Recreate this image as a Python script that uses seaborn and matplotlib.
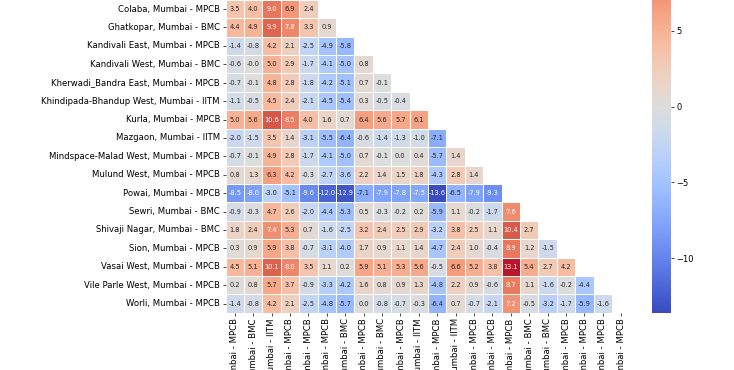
import numpy as np
import pandas as pd
import matplotlib
matplotlib.use("Agg")
import matplotlib.pyplot as plt
import seaborn as sns

# stations (row/column order of the matrix)
sites = ["Bandra Kurla Complex", "Byculla", "Chakala-Andheri East", "Chembur",
         "Chhatrapati Shivaji Intl. Airport (T2)", "Colaba", "Ghatkopar",
         "Kandivali East", "Kandivali West", "Kherwadi_Bandra East",
         "Khindipada-Bhandup West", "Kurla", "Mazgaon", "Mindspace-Malad West",
         "Mulund West", "Powai", "Sewri", "Shivaji Nagar", "Sion", "Vasai West",
         "Vile Parle West", "Worli"]
agency = ["MPCB", "BMC", "IITM", "MPCB", "MPCB", "MPCB", "BMC", "MPCB", "BMC",
          "MPCB", "IITM", "MPCB", "IITM", "MPCB", "MPCB", "MPCB", "BMC", "BMC",
          "MPCB", "MPCB", "MPCB", "MPCB"]

# lower triangle, one list per row
lower = [
    [],
    [-0.5],
    [-5.5, -5.0],
    [-3.4, -2.9, 2.1],
    [1.1, 1.6, 6.6, 4.5],
    [3.5, 4.0, 9.0, 6.9, 2.4],
    [4.4, 4.9, 9.9, 7.8, 3.3, 0.9],
    [-1.4, -0.8, 4.2, 2.1, -2.5, -4.9, -5.8],
    [-0.6, -0.0, 5.0, 2.9, -1.7, -4.1, -5.0, 0.8],
    [-0.7, -0.1, 4.8, 2.8, -1.8, -4.2, -5.1, 0.7, -0.1],
    [-1.1, -0.5, 4.5, 2.4, -2.1, -4.5, -5.4, 0.3, -0.5, -0.4],
    [5.0, 5.6, 10.6, 8.5, 4.0, 1.6, 0.7, 6.4, 5.6, 5.7, 6.1],
    [-2.0, -1.5, 3.5, 1.4, -3.1, -5.5, -6.4, -0.6, -1.4, -1.3, -1.0, -7.1],
    [-0.7, -0.1, 4.9, 2.8, -1.7, -4.1, -5.0, 0.7, -0.1, 0.0, 0.4, -5.7, 1.4],
    [0.8, 1.3, 6.3, 4.2, -0.3, -2.7, -3.6, 2.2, 1.4, 1.5, 1.8, -4.3, 2.8, 1.4],
    [-8.5, -8.0, -3.0, -5.1, -9.6, -12.0, -12.9, -7.1, -7.9, -7.8, -7.5, -13.6,
     -6.5, -7.9, -9.3],
    [-0.9, -0.3, 4.7, 2.6, -2.0, -4.4, -5.3, 0.5, -0.3, -0.2, 0.2, -5.9, 1.1,
     -0.2, -1.7, 7.6],
    [1.8, 2.4, 7.4, 5.3, 0.7, -1.6, -2.5, 3.2, 2.4, 2.5, 2.9, -3.2, 3.8, 2.5,
     1.1, 10.4, 2.7],
    [0.3, 0.9, 5.9, 3.8, -0.7, -3.1, -4.0, 1.7, 0.9, 1.1, 1.4, -4.7, 2.4, 1.0,
     -0.4, 8.9, 1.2, -1.5],
    [4.5, 5.1, 10.1, 8.0, 3.5, 1.1, 0.2, 5.9, 5.1, 5.3, 5.6, -0.5, 6.6, 5.2,
     3.8, 13.1, 5.4, 2.7, 4.2],
    [0.2, 0.8, 5.7, 3.7, -0.9, -3.3, -4.2, 1.6, 0.8, 0.9, 1.3, -4.8, 2.2, 0.9,
     -0.6, 8.7, 1.1, -1.6, -0.2, -4.4],
    [-1.4, -0.8, 4.2, 2.1, -2.5, -4.8, -5.7, 0.0, -0.8, -0.7, -0.3, -6.4, 0.7,
     -0.7, -2.1, 7.2, -0.5, -3.2, -1.7, -5.9, -1.6],
]

labels = [f"{s}, Mumbai - {a}" for s, a in zip(sites, agency)]
n = len(labels)
mat = np.full((n, n), np.nan)
for i, row in enumerate(lower):
    mat[i, :len(row)] = row
df = pd.DataFrame(mat, index=labels, columns=labels)
mask = np.triu(np.ones((n, n), dtype=bool))

W, H = 734, 370
fig = plt.figure(figsize=(W / 100, H / 100), dpi=100)
# the reference is a crop of a taller figure: top rows run off the top edge
ax = fig.add_axes([225.5 / W, (H - 312.8) / H, 405 / W, 405 / H])
cax = fig.add_axes([652 / W, (H - 312.8) / H, 19 / W, 405 / H])

sns.heatmap(df, mask=mask, cmap="coolwarm", center=0, annot=True, fmt=".1f",
            annot_kws={"size": 4.8}, linewidths=0.5, linecolor="white",
            ax=ax, cbar_ax=cax, xticklabels=True, yticklabels=True)

ax.tick_params(axis="both", labelsize=6.1, length=2.5, width=0.5, pad=1.5)
ax.set_xticklabels(labels, rotation=90)
ax.set_yticklabels(labels, rotation=0)
cax.tick_params(labelsize=6.0, length=2.5, width=0.5, pad=1.5)

fig.savefig("out.png", dpi=100)
